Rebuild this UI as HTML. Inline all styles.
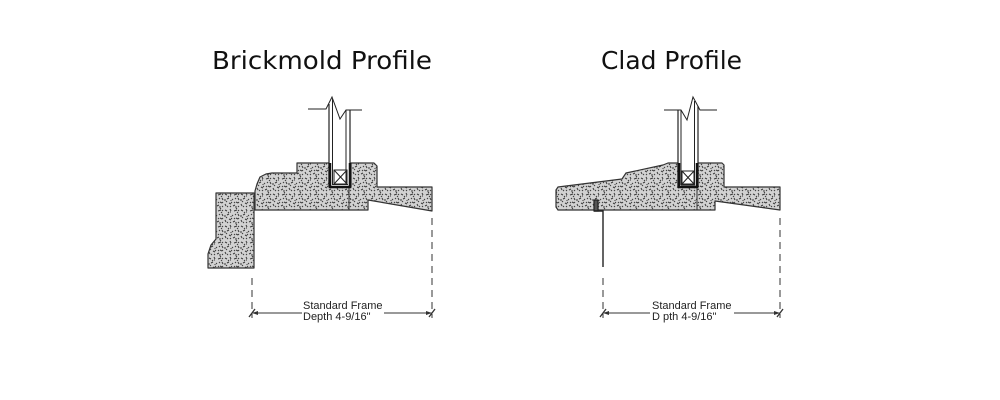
<!DOCTYPE html>
<html>
<head>
<meta charset="utf-8">
<style>
html,body{margin:0;padding:0;background:#fff;}
svg{display:block;}
</style>
</head>
<body>
<svg width="1000" height="400" viewBox="0 0 1000 400" xmlns="http://www.w3.org/2000/svg">
<defs>
<pattern id="st" width="16" height="16" patternUnits="userSpaceOnUse">
<rect width="16" height="16" fill="#d2d2d2"/>
<path d="M1 2l2 1M6 1l1 2M10 3l3-1M14 6l1 2M3 7l2-1M8 7l1 1M12 10l2 1M1 12l1 2M5 11l2 1M9 14l2-1M14 14l1 1M6 4h1M11 6l1 1M3 15l1-1M8 10l-1 1M15 2l-1 1M4 4l1 1M12 0l1 1M0 8l2 0M10 11l1-1M6 14l1 1M13 4l1 1M2 10l1-1M7 8l0 1M15 10l-1 1M11 15l2 0" stroke="#3a3a3a" stroke-width="1" fill="none"/>
</pattern>
</defs>

<!-- Titles -->
<text x="212" y="69" font-family="DejaVu Sans, Liberation Sans, sans-serif" font-size="25" fill="#111" textLength="220" lengthAdjust="spacingAndGlyphs">Brickmold Profile</text>
<text x="601" y="69" font-family="DejaVu Sans, Liberation Sans, sans-serif" font-size="25" fill="#111" textLength="141" lengthAdjust="spacingAndGlyphs">Clad Profile</text>

<!-- ============ BRICKMOLD ============ -->
<g stroke="#333" stroke-width="1.2" stroke-linejoin="round">
  <polygon points="216,193 254,193 254,268 208,268 208,254 211,245 216,239" fill="url(#st)"/>
  <polygon points="255,210 255,191 257,184 260,177 266,174 272,173 297,173 297,163 329,163 329,187 351,187 351,163 374,163 377,166 377,187 432,187 432,211 368,200 368,210" fill="url(#st)"/>
</g>
<line x1="349" y1="187" x2="349" y2="210" stroke="#333" stroke-width="1"/>
<g stroke="#222" fill="none">
  <polyline points="308,109 326,109 332,97 340,119 346,110 362,110" stroke-width="1"/>
  <line x1="329" y1="104" x2="329" y2="187" stroke-width="1.2"/>
  <line x1="332.5" y1="99" x2="332.5" y2="185" stroke-width="1"/>
  <line x1="346" y1="110" x2="346" y2="185" stroke-width="1"/>
  <line x1="350" y1="110" x2="350" y2="187" stroke-width="1.2"/>
  <polyline points="330,163 330,187 350,187 350,163" stroke-width="2.5" stroke="#111"/>
  <line x1="332" y1="184.5" x2="348" y2="184.5" stroke-width="1"/>
  <rect x="334" y="170" width="13" height="14" stroke-width="1"/>
  <line x1="334" y1="170" x2="347" y2="184" stroke-width="1"/>
  <line x1="347" y1="170" x2="334" y2="184" stroke-width="1"/>
</g>
<g stroke="#333" stroke-width="1" fill="none">
  <line x1="252" y1="278" x2="252" y2="318" stroke-dasharray="7,5"/>
  <line x1="432" y1="218" x2="432" y2="318" stroke-dasharray="7,5"/>
  <line x1="252" y1="313" x2="302" y2="313"/>
  <line x1="384" y1="313" x2="432" y2="313"/>
  <line x1="249" y1="317" x2="255" y2="309" stroke-width="1.3"/>
  <line x1="429" y1="317" x2="435" y2="309" stroke-width="1.3"/>
</g>
<path d="M252 313 l6 -2 v4z M432 313 l-6 -2 v4z" fill="#333"/>
<text x="303" y="309" font-family="Liberation Sans, sans-serif" font-size="11" fill="#222">Standard Frame</text>
<text x="303" y="320" font-family="Liberation Sans, sans-serif" font-size="11" fill="#222">Depth 4-9/16"</text>

<!-- ============ CLAD ============ -->
<g stroke="#333" stroke-width="1.2" stroke-linejoin="round">
  <polygon points="556,190 558,187 622,179 626,173 663,165 668,163 678,163 678,187 698,187 698,163 722,163 724,165 724,187 780,187 780,210 715,201 715,210 558,210 556,207" fill="url(#st)"/>
</g>
<line x1="697" y1="187" x2="697" y2="210" stroke="#333" stroke-width="1"/>
<g stroke="#222" fill="none">
  <rect x="594" y="200" width="4" height="11" stroke-width="1.2" fill="#555"/>
  <polyline points="594,211 603,211 603,267" stroke-width="1.4"/>
</g>
<g stroke="#222" fill="none">
  <polyline points="664,110 681,110 687,120 693,97 700,110 717,110" stroke-width="1"/>
  <line x1="678" y1="110" x2="678" y2="187" stroke-width="1.2"/>
  <line x1="681" y1="110" x2="681" y2="185" stroke-width="1"/>
  <line x1="694.5" y1="101" x2="694.5" y2="185" stroke-width="1"/>
  <line x1="698" y1="106" x2="698" y2="187" stroke-width="1.2"/>
  <polyline points="679,163 679,187 697,187 697,163" stroke-width="2.5" stroke="#111"/>
  <line x1="681" y1="185" x2="695" y2="185" stroke-width="1"/>
  <rect x="682" y="171" width="12" height="13" stroke-width="1"/>
  <line x1="682" y1="171" x2="694" y2="184" stroke-width="1"/>
  <line x1="694" y1="171" x2="682" y2="184" stroke-width="1"/>
</g>
<g stroke="#333" stroke-width="1" fill="none">
  <line x1="603" y1="278" x2="603" y2="318" stroke-dasharray="7,5"/>
  <line x1="780" y1="218" x2="780" y2="318" stroke-dasharray="7,5"/>
  <line x1="603" y1="313" x2="650" y2="313"/>
  <line x1="734" y1="313" x2="780" y2="313"/>
  <line x1="600" y1="317" x2="606" y2="309" stroke-width="1.3"/>
  <line x1="777" y1="317" x2="783" y2="309" stroke-width="1.3"/>
</g>
<path d="M603 313 l6 -2 v4z M780 313 l-6 -2 v4z" fill="#333"/>
<text x="652" y="309" font-family="Liberation Sans, sans-serif" font-size="11" fill="#222">Standard Frame</text>
<text x="652" y="320" font-family="Liberation Sans, sans-serif" font-size="11" fill="#222">D pth 4-9/16"</text>
</svg>
</body>
</html>
